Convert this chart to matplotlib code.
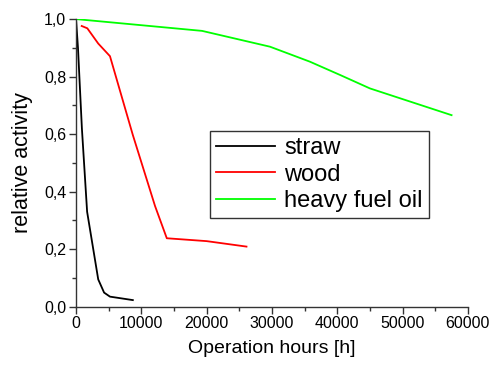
import matplotlib.pyplot as plt
from matplotlib.ticker import MultipleLocator, FuncFormatter

plt.rcParams['font.family'] = ['Liberation Sans', 'DejaVu Sans']

straw_x = [0, 300, 900, 1700, 3400, 4300, 5200, 8700]
straw_y = [1.0, 0.9, 0.62, 0.33, 0.095, 0.049, 0.035, 0.023]

wood_x = [870, 1730, 3400, 5200, 8700, 12100, 13900, 20000, 26100]
wood_y = [0.976, 0.968, 0.915, 0.871, 0.597, 0.35, 0.238, 0.228, 0.209]

oil_x = [0, 19300, 29700, 35800, 40500, 45000, 57500]
oil_y = [1.0, 0.959, 0.904, 0.852, 0.805, 0.759, 0.666]

fig = plt.figure(figsize=(4.92, 3.65), dpi=100)
ax = fig.add_axes([0.1545, 0.1597, 0.7965, 0.788])

ax.plot(straw_x, straw_y, color='black', lw=1.3, label='straw')
ax.plot(wood_x, wood_y, color='#ff0000', lw=1.3, label='wood')
ax.plot(oil_x, oil_y, color='#00ff00', lw=1.3, label='heavy fuel oil')

ax.set_xlim(0, 60000)
ax.set_ylim(0, 1.0)
ax.xaxis.set_major_locator(MultipleLocator(10000))
ax.xaxis.set_minor_locator(MultipleLocator(5000))
ax.yaxis.set_major_locator(MultipleLocator(0.2))
ax.yaxis.set_minor_locator(MultipleLocator(0.1))
ax.yaxis.set_major_formatter(FuncFormatter(lambda v, p: ('%.1f' % v).replace('.', ',')))

for s in ['top', 'right']:
    ax.spines[s].set_visible(False)
for s in ['left', 'bottom']:
    ax.spines[s].set_color('#333333')
    ax.spines[s].set_linewidth(1.0)
ax.tick_params(which='major', direction='out', length=5, width=1, color='#333333',
               labelsize=11.5, pad=2)
ax.tick_params(which='minor', direction='out', length=3, width=1, color='#333333')

ax.set_xlabel('Operation hours [h]', fontsize=14, labelpad=6)
ax.set_ylabel('relative activity', fontsize=15.5, labelpad=8)

leg = ax.legend(loc='upper left', bbox_to_anchor=(0.342, 0.611), fontsize=17,
                frameon=True, fancybox=False, framealpha=1, edgecolor='#333333',
                handlelength=2.5, handletextpad=0.4, borderpad=0.25, labelspacing=0.2,
                borderaxespad=0)
leg.get_frame().set_linewidth(1.0)

fig.savefig('out.png', dpi=100)
